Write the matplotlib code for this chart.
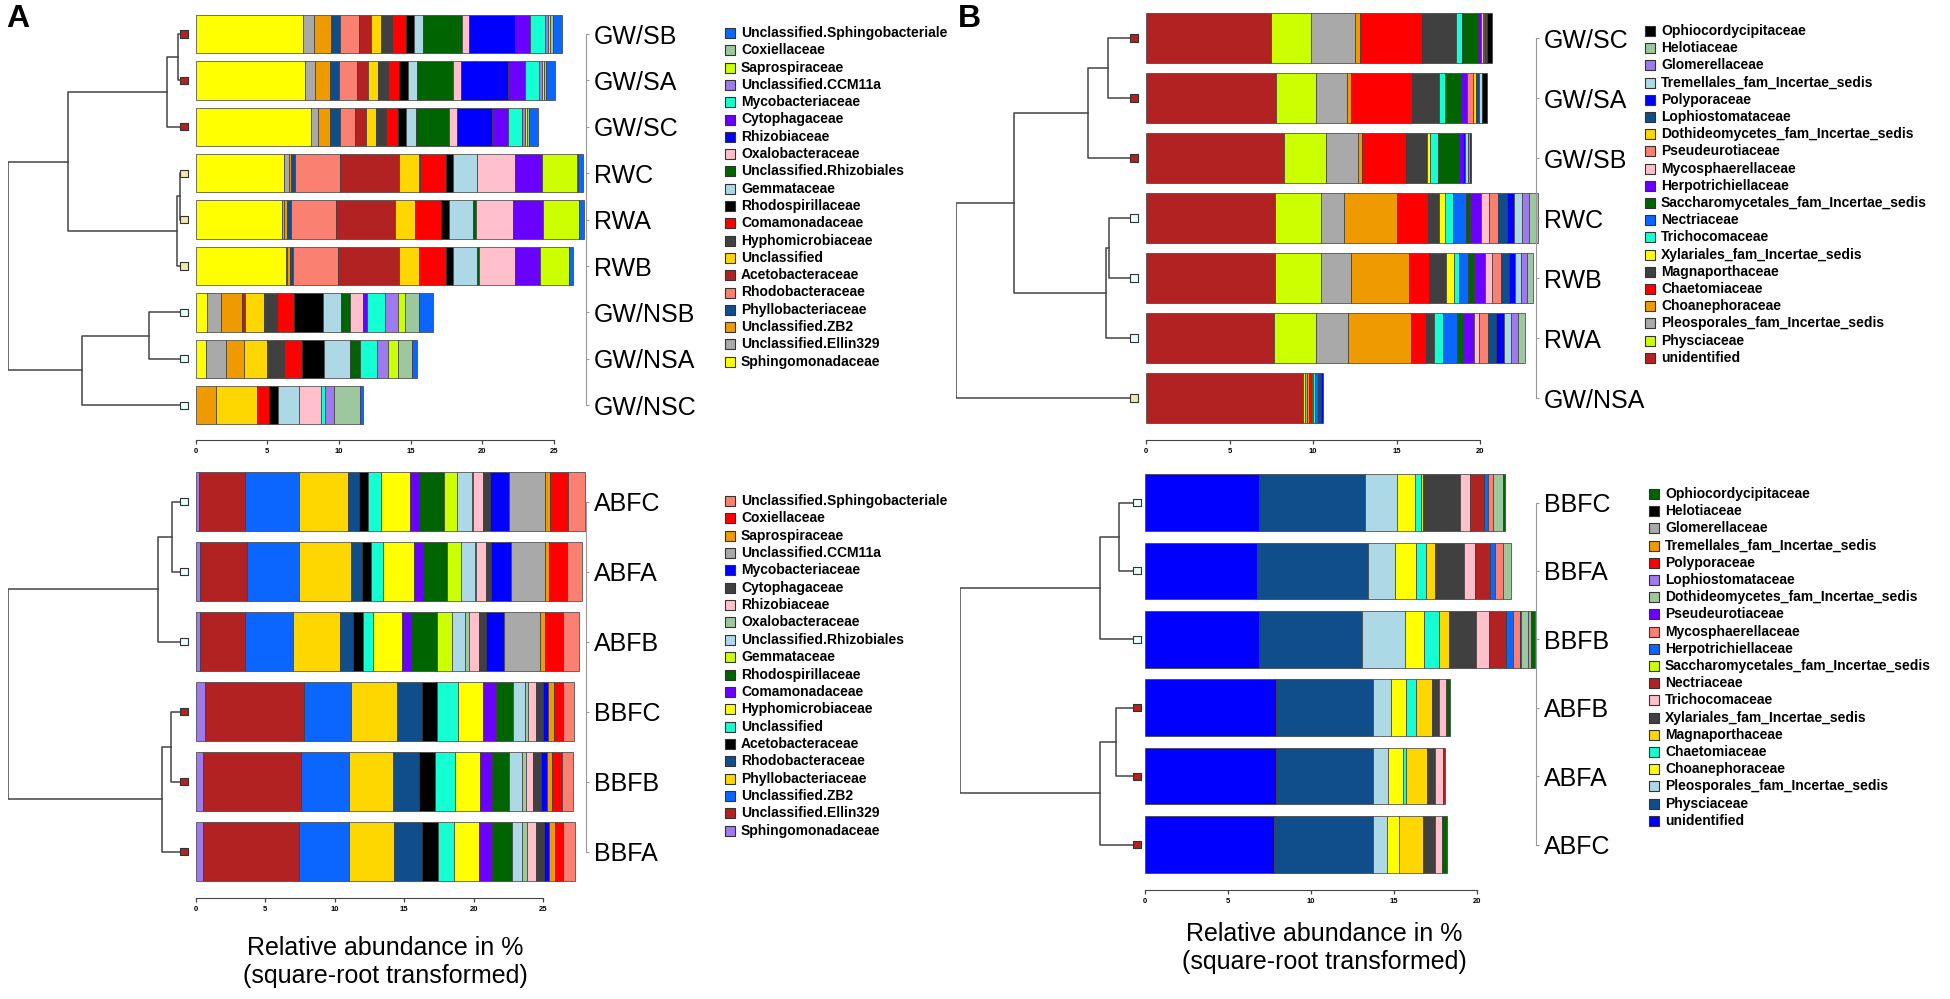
import matplotlib.pyplot as plt
import numpy as np

W, H = 1950, 999
plt.rcParams["font.family"] = ["Liberation Sans", "DejaVu Sans"]

# colour names used in the original R plots
pal = {
    "yellow": "#FFFF00", "grey": "#A9A9A9", "orange": "#EE9A00", "darkblue": "#104E8B",
    "salmon": "#FA8072", "firebrick": "#B22222", "gold": "#FFD700", "darkgrey": "#404040",
    "red": "#FF0000", "black": "#000000", "lightblue": "#ADD8E6", "darkgreen": "#006400",
    "pink": "#FFC0CB", "blue": "#0000FF", "purple": "#6A00FF", "aqua": "#14FFD2",
    "mpurple": "#9F79EE", "ygreen": "#CCFF00", "sgreen": "#9DC79D", "dblue": "#0A66FF",
}
leaf_pal = {"r": "#B22222", "k": "#EEE8AA", "c": "#E6FFFF"}

# ---------------- panel A, top (bacteria) ----------------
tl_samples = ["GW/SB", "GW/SA", "GW/SC", "RWC", "RWA", "RWB", "GW/NSB", "GW/NSA", "GW/NSC"]
bac_taxa = ["Sphingomonadaceae", "Unclassified.Ellin329", "Unclassified.ZB2", "Phyllobacteriaceae",
            "Rhodobacteraceae", "Acetobacteraceae", "Unclassified", "Hyphomicrobiaceae",
            "Comamonadaceae", "Rhodospirillaceae", "Gemmataceae", "Unclassified.Rhizobiales",
            "Oxalobacteraceae", "Rhizobiaceae", "Cytophagaceae", "Mycobacteriaceae",
            "Unclassified.CCM11a", "Saprospiraceae", "Coxiellaceae", "Unclassified.Sphingobacteriale"]
tl_colors = ["yellow", "grey", "orange", "darkblue", "salmon", "firebrick", "gold", "darkgrey",
             "red", "black", "lightblue", "darkgreen", "pink", "blue", "purple", "aqua",
             "mpurple", "ygreen", "sgreen", "dblue"]
tl_values = [
    [7.5, 0.75, 1.2, 0.65, 1.3, 0.85, 0.65, 0.8, 0.95, 0.6, 0.6, 2.7, 0.5, 3.2, 1.1, 1.0, 0.25, 0.15, 0.15, 0.65],
    [7.6, 0.75, 1.05, 0.6, 1.25, 0.8, 0.7, 0.7, 0.75, 0.6, 0.65, 2.5, 0.55, 3.3, 1.2, 0.95, 0.2, 0.15, 0.15, 0.65],
    [8.05, 0.5, 0.85, 0.65, 1.05, 0.8, 0.7, 0.7, 0.85, 0.5, 0.75, 2.3, 0.55, 2.4, 1.15, 1.0, 0.15, 0.15, 0.15, 0.65],
    [6.15, 0.35, 0.15, 0.25, 3.2, 4.1, 1.4, 0.05, 1.8, 0.5, 1.65, 0.05, 2.6, 0.0, 1.9, 0.05, 0.0, 2.4, 0.05, 0.35],
    [6.0, 0.15, 0.25, 0.25, 3.15, 4.1, 1.4, 0.0, 1.85, 0.5, 1.7, 0.2, 2.6, 0.0, 2.1, 0.0, 0.0, 2.5, 0.0, 0.35],
    [6.3, 0.1, 0.2, 0.2, 3.15, 4.25, 1.4, 0.0, 1.9, 0.45, 1.65, 0.2, 2.5, 0.0, 1.7, 0.0, 0.0, 2.05, 0.0, 0.3],
    [0.8, 0.95, 1.5, 0.0, 0.0, 0.2, 1.3, 0.9, 1.2, 2.0, 1.3, 0.6, 0.9, 0.0, 0.3, 1.25, 0.9, 0.5, 1.0, 0.95],
    [0.75, 1.35, 1.3, 0.0, 0.0, 0.0, 1.55, 1.2, 1.25, 1.55, 1.85, 0.7, 0.0, 0.0, 0.0, 1.15, 0.8, 0.65, 1.0, 0.35],
    [0.0, 0.0, 1.45, 0.0, 0.0, 0.0, 2.8, 0.0, 0.9, 0.6, 1.45, 0.0, 1.55, 0.0, 0.0, 0.3, 0.6, 0.0, 1.85, 0.2],
]
tl_merges = [(0, 1, 0.034), (9, 2, 0.097), (3, 4, 0.023), (11, 5, 0.04), (10, 12, 0.66),
             (6, 7, 0.2), (14, 8, 0.58), (13, 15, 1.0)]
tl_leaves = ["r", "r", "r", "k", "k", "k", "c", "c", "c"]

# ---------------- panel A, bottom (bacteria) ----------------
bl_samples = ["ABFC", "ABFA", "ABFB", "BBFC", "BBFB", "BBFA"]
bl_colors = ["mpurple", "firebrick", "dblue", "gold", "darkblue", "black", "aqua", "yellow",
             "purple", "darkgreen", "ygreen", "lightblue", "sgreen", "pink", "darkgrey", "blue",
             "grey", "orange", "red", "salmon"]
bl_values = [
    [0.25, 3.3, 3.9, 3.5, 0.8, 0.65, 0.9, 2.15, 0.65, 1.75, 0.95, 1.07, 0.1, 0.7, 0.5, 1.4, 2.55, 0.35, 1.35, 1.2],
    [0.3, 3.4, 3.75, 3.7, 0.8, 0.65, 0.9, 2.2, 0.65, 1.7, 1.05, 1.0, 0.1, 0.7, 0.35, 1.45, 2.4, 0.3, 1.3, 1.1],
    [0.3, 3.25, 3.45, 3.35, 0.95, 0.75, 0.7, 2.1, 0.65, 1.85, 1.1, 0.9, 0.3, 0.7, 0.5, 1.3, 2.65, 0.35, 1.25, 1.15],
    [0.7, 7.1, 3.4, 3.25, 1.85, 1.05, 1.5, 1.8, 0.95, 1.2, 0.0, 0.9, 0.2, 0.55, 0.5, 0.4, 0.0, 0.45, 0.6, 0.8],
    [0.5, 7.05, 3.45, 3.2, 1.9, 1.1, 1.45, 1.8, 0.9, 1.2, 0.0, 0.9, 0.3, 0.55, 0.55, 0.45, 0.0, 0.35, 0.7, 0.8],
    [0.55, 6.9, 3.6, 3.25, 1.95, 1.15, 1.2, 1.8, 0.95, 1.4, 0.0, 0.75, 0.35, 0.6, 0.6, 0.35, 0.0, 0.45, 0.6, 0.85],
]
bl_merges = [(0, 1, 0.068), (6, 2, 0.148), (3, 4, 0.074), (8, 5, 0.125), (7, 9, 1.0)]
bl_leaves = ["c", "c", "c", "r", "r", "r"]

# ---------------- panel B, top (fungi) ----------------
tr_samples = ["GW/SC", "GW/SA", "GW/SB", "RWC", "RWB", "RWA", "GW/NSA"]
fun_taxa = ["unidentified", "Physciaceae", "Pleosporales_fam_Incertae_sedis", "Choanephoraceae",
            "Chaetomiaceae", "Magnaporthaceae", "Xylariales_fam_Incertae_sedis", "Trichocomaceae",
            "Nectriaceae", "Saccharomycetales_fam_Incertae_sedis", "Herpotrichiellaceae",
            "Mycosphaerellaceae", "Pseudeurotiaceae", "Dothideomycetes_fam_Incertae_sedis",
            "Lophiostomataceae", "Polyporaceae", "Tremellales_fam_Incertae_sedis", "Glomerellaceae",
            "Helotiaceae", "Ophiocordycipitaceae"]
tr_colors = ["firebrick", "ygreen", "grey", "orange", "red", "darkgrey", "yellow", "aqua", "dblue",
             "darkgreen", "purple", "pink", "salmon", "gold", "darkblue", "blue", "lightblue",
             "mpurple", "sgreen", "black"]
tr_values = [
    [7.5, 2.4, 2.6, 0.3, 3.75, 2.0, 0.0, 0.4, 0.0, 0.95, 0.15, 0.1, 0.1, 0.05, 0.05, 0.0, 0.0, 0.05, 0.0, 0.3],
    [7.8, 2.4, 1.85, 0.2, 3.65, 1.65, 0.0, 0.35, 0.0, 0.95, 0.4, 0.0, 0.35, 0.15, 0.2, 0.0, 0.15, 0.0, 0.0, 0.3],
    [8.25, 2.5, 1.95, 0.25, 2.6, 1.25, 0.2, 0.5, 0.0, 1.25, 0.25, 0.0, 0.0, 0.0, 0.0, 0.1, 0.2, 0.1, 0.0, 0.06],
    [7.75, 2.7, 1.4, 3.2, 1.85, 0.65, 0.35, 0.5, 0.75, 0.25, 0.65, 0.5, 0.5, 0.0, 0.55, 0.45, 0.45, 0.45, 0.5, 0.0],
    [7.7, 2.75, 1.8, 3.5, 1.2, 1.0, 0.5, 0.3, 0.55, 0.35, 0.65, 0.4, 0.55, 0.0, 0.5, 0.35, 0.35, 0.35, 0.35, 0.0],
    [7.65, 2.5, 1.95, 3.75, 0.9, 0.5, 0.0, 0.55, 0.85, 0.35, 0.65, 0.3, 0.55, 0.0, 0.45, 0.5, 0.4, 0.4, 0.45, 0.0],
    [9.4, 0.12, 0.15, 0.1, 0.15, 0.0, 0.1, 0.1, 0.2, 0.0, 0.0, 0.0, 0.0, 0.0, 0.15, 0.1, 0.0, 0.0, 0.0, 0.0],
]
tr_merges = [(0, 1, 0.146), (7, 2, 0.258), (3, 4, 0.14), (9, 5, 0.157), (8, 10, 0.674), (11, 6, 1.0)]
tr_leaves = ["r", "r", "r", "c", "c", "c", "k"]

# ---------------- panel B, bottom (fungi) ----------------
br_samples = ["BBFC", "BBFA", "BBFB", "ABFB", "ABFA", "ABFC"]
br_colors = ["blue", "darkblue", "lightblue", "yellow", "aqua", "gold", "darkgrey", "pink",
             "firebrick", "ygreen", "dblue", "salmon", "purple", "sgreen", "mpurple", "red",
             "orange", "grey", "black", "darkgreen"]
br_values = [
    [6.87, 6.37, 1.96, 1.04, 0.36, 0.14, 2.24, 0.56, 0.86, 0.0, 0.24, 0.3, 0.0, 0.6, 0.0, 0.0, 0.0, 0.0, 0.0, 0.12],
    [6.77, 6.67, 1.6, 1.3, 0.56, 0.54, 1.74, 0.66, 0.9, 0.0, 0.3, 0.5, 0.0, 0.46, 0.0, 0.0, 0.0, 0.0, 0.0, 0.0],
    [6.89, 6.19, 2.56, 1.14, 0.92, 0.6, 1.64, 0.74, 1.06, 0.0, 0.4, 0.4, 0.1, 0.4, 0.0, 0.0, 0.0, 0.2, 0.0, 0.24],
    [7.88, 5.87, 1.04, 0.9, 0.62, 0.98, 0.4, 0.42, 0.08, 0.0, 0.0, 0.0, 0.0, 0.0, 0.0, 0.0, 0.0, 0.0, 0.0, 0.16],
    [7.88, 5.87, 0.9, 0.9, 0.14, 1.3, 0.46, 0.46, 0.16, 0.0, 0.0, 0.0, 0.0, 0.0, 0.0, 0.0, 0.0, 0.0, 0.0, 0.0],
    [7.78, 5.97, 0.8, 0.74, 0.0, 1.42, 0.76, 0.38, 0.0, 0.0, 0.0, 0.0, 0.0, 0.0, 0.0, 0.0, 0.0, 0.0, 0.0, 0.32],
]
br_merges = [(0, 1, 0.10), (6, 2, 0.21), (3, 4, 0.12), (8, 5, 0.21), (7, 9, 1.0)]
br_leaves = ["c", "c", "c", "r", "r", "r"]

fig = plt.figure(figsize=(W / 100, H / 100), dpi=100)
ov = fig.add_axes([0, 0, 1, 1])
ov.set_xlim(0, W)
ov.set_ylim(H, 0)
ov.axis("off")


def px_box(x0, y0, x1, y1):
    return [x0 / W, 1 - y1 / H, (x1 - x0) / W, (y1 - y0) / H]


def draw_panel(samples, taxa, colors, values, merges, leaves, geo):
    n = len(samples)
    rows = np.arange(n)
    top = geo["c0"] - geo["step"] / 2
    bottom = geo["c0"] + (n - 0.5) * geo["step"]

    ax = fig.add_axes(px_box(geo["x0"], top, geo["x0"] + geo["unit"] * geo["xmax"], bottom))
    ax.patch.set_visible(False)
    ax.set_xlim(0, geo["xmax"])
    ax.set_ylim(n - 0.5, -0.5)
    vals = np.array(values)
    lefts = np.cumsum(vals, axis=1) - vals
    for j, c in enumerate(colors):
        m = vals[:, j] > 0
        ax.barh(rows[m], vals[m, j], left=lefts[m, j], height=0.83, color=pal[c],
                edgecolor="#3a3a3a", linewidth=0.5)
    ax.spines["top"].set_visible(False)
    ax.spines["left"].set_visible(False)
    ax.spines["bottom"].set_position(("outward", geo["gap"] * 0.72))
    ax.spines["bottom"].set_bounds(geo["ticks"][0], geo["ticks"][-1])
    ax.spines["bottom"].set_color("#444444")
    ax.set_xticks(geo["ticks"])
    ax.set_xticklabels([str(t) for t in geo["ticks"]], fontsize=5.5, fontweight="bold")
    ax.tick_params(axis="x", length=3, width=0.9, pad=2.5, color="#444444")
    ax.spines["right"].set_position(("data", geo["lab_x"]))
    ax.spines["right"].set_bounds(0, n - 1)
    ax.spines["right"].set_color("#999999")
    ax.yaxis.tick_right()
    ax.set_yticks(rows)
    ax.set_yticklabels(samples, fontsize=18)
    ax.tick_params(axis="y", length=2.5, width=0.8, color="#999999", pad=3)

    # dendrogram
    dax = fig.add_axes(px_box(geo["d0"], top, geo["d1"], bottom))
    dax.set_xlim(1, 0)
    dax.set_ylim(n - 0.5, -0.5)
    dax.axis("off")
    pos = {i: (0.0, float(i)) for i in range(n)}
    for k, (a, b, h) in enumerate(merges):
        (ha, ya), (hb, yb) = pos[a], pos[b]
        dax.plot([ha, h, h, hb], [ya, ya, yb, yb], color="#444444", lw=1.1)
        pos[n + k] = (h, (ya + yb) / 2)
    dax.scatter(np.zeros(n), rows, marker="s", s=26, c=[leaf_pal[l] for l in leaves],
                edgecolors="#333333", linewidths=0.8, zorder=3, clip_on=False)

    # legend, listed top to bottom in reverse stacking order
    for i, (name, c) in enumerate(zip(taxa[::-1], colors[::-1])):
        y = geo["ly"] + i * geo["lstep"]
        ov.scatter(geo["lx"], y, marker="s", s=55, color=pal[c], edgecolors="#333333", linewidths=0.8)
        ov.text(geo["lx"] + 11, y, name, fontsize=10, fontweight="bold", va="center", ha="left")


draw_panel(tl_samples, bac_taxa, tl_colors, tl_values, tl_merges, tl_leaves,
           dict(x0=195.7, unit=14.33, xmax=30, c0=34, step=46.4, gap=11.6, ticks=[0, 5, 10, 15, 20, 25],
                lab_x=27.24, d0=8, d1=184, lx=730, ly=33, lstep=17.3))
draw_panel(bl_samples, bac_taxa, bl_colors, bl_values, bl_merges, bl_leaves,
           dict(x0=195.7, unit=13.9, xmax=30, c0=501.5, step=70, gap=11.5, ticks=[0, 5, 10, 15, 20, 25],
                lab_x=28.08, d0=8, d1=184, lx=730, ly=501, lstep=17.35))
draw_panel(tr_samples, fun_taxa, tr_colors, tr_values, tr_merges, tr_leaves,
           dict(x0=1146, unit=16.7, xmax=25, c0=38, step=60, gap=12, ticks=[0, 5, 10, 15, 20],
                lab_x=23.35, d0=956, d1=1134, lx=1650, ly=31, lstep=17.2))
draw_panel(br_samples, fun_taxa, br_colors, br_values, br_merges, br_leaves,
           dict(x0=1144.7, unit=16.63, xmax=25, c0=502.5, step=68.4, gap=11.3, ticks=[0, 5, 10, 15, 20],
                lab_x=23.53, d0=960, d1=1137, lx=1654, ly=494, lstep=17.2))

ov.text(6, 4, "A", fontsize=23, fontweight="bold", va="top", ha="left")
ov.text(958, 4, "B", fontsize=23, fontweight="bold", va="top", ha="left")
xlab = "Relative abundance in %\n(square-root transformed)"
ov.text(385, 962, xlab, fontsize=18, ha="center", va="center", linespacing=1.2)
ov.text(1324, 948, xlab, fontsize=18, ha="center", va="center", linespacing=1.2)

fig.savefig("out.png", dpi=100)
